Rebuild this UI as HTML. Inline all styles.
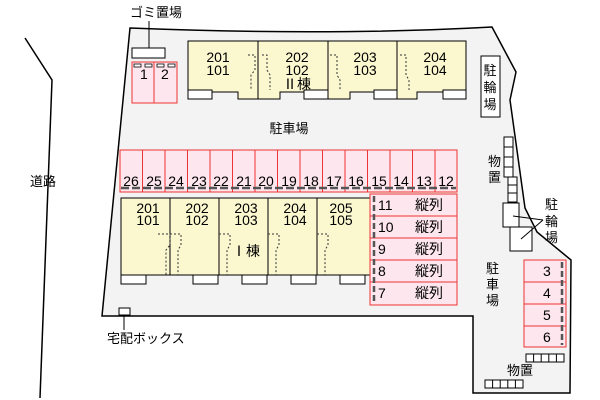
<!DOCTYPE html>
<html><head><style>
html,body{margin:0;padding:0;background:#fff;}
svg{display:block;font-family:"Liberation Sans","Noto Sans CJK JP",sans-serif;}
</style></head><body>
<svg width="600" height="400" viewBox="0 0 600 400" xmlns="http://www.w3.org/2000/svg">
<polyline points="25,38 52,80 40,398" fill="none" stroke="#000" stroke-width="1.5"/>
<path d="M130,28 Q330,36 492,27 L516,72 L510,100 L525,208 L537,232 L571,260 L570,393 L473,393 L473,316 L102,316 Z" fill="#f3f3f3" stroke="#000" stroke-width="1.5"/>
<text x="30" y="186" font-size="13">道路</text>
<text x="130" y="17" font-size="13">ゴミ置場</text>
<line x1="149" y1="21" x2="149" y2="48" stroke="#000"/>
<rect x="132" y="48" width="33" height="10" fill="#fff" stroke="#000"/>
<rect x="132" y="62" width="22" height="41" fill="#fde6ee" stroke="#e33"/>
<rect x="154" y="62" width="23" height="41" fill="#fde6ee" stroke="#e33"/>
<g fill="#fff" stroke="#000" stroke-width="0.8"><rect x="134" y="64" width="7" height="3"/><rect x="145" y="64" width="7" height="3"/><rect x="157" y="64" width="7" height="3"/><rect x="168" y="64" width="7" height="3"/></g>
<text x="140" y="79" font-size="14">1</text><text x="161" y="79" font-size="14">2</text>
<!-- Building II -->
<path d="M188,41 H466 V99 H446 V92 H417 V99 H374 V92 H350 V99 H304 V92 H280 V99 H238 V92 H212 V99 H188 Z" fill="#fbf8d0" stroke="#000"/>
<g stroke="#000"><line x1="258" y1="41" x2="258" y2="99"/><line x1="328" y1="41" x2="328" y2="92"/><line x1="397" y1="41" x2="397" y2="99"/></g>
<g fill="#fff" stroke="#000"><rect x="188" y="90" width="24" height="9"/><rect x="304" y="90" width="24" height="9"/><rect x="374" y="90" width="23" height="9"/><rect x="443" y="90" width="23" height="9"/></g>
<g stroke="#333" stroke-dasharray="2,2" fill="none"><path d="M248,55 H255 V70 L251,75 V90"/><path d="M262,55 H267 V70 L270,75 V90"/><path d="M330,55 H337 V75 L340,80 V90"/><path d="M400,55 H406 V75 L409,80 V90"/></g>
<g font-size="14" text-anchor="middle"><text x="218" y="62">201</text><text x="218" y="75">101</text><text x="297" y="62">202</text><text x="297" y="75">102</text><text x="365" y="62">203</text><text x="365" y="75">103</text><text x="435" y="62">204</text><text x="435" y="75">104</text></g>
<text x="297" y="89" font-size="14" text-anchor="middle">Ⅱ棟</text>
<rect x="481" y="56" width="19" height="61" fill="#fff" stroke="#000"/>
<text x="490" y="75" font-size="13" text-anchor="middle">駐</text><text x="490" y="92" font-size="13" text-anchor="middle">輪</text><text x="490" y="109" font-size="13" text-anchor="middle">場</text>
<text x="289" y="133" font-size="13" text-anchor="middle">駐車場</text>
<!-- parking row -->
<rect x="120" y="150" width="337" height="42" fill="#fde6ee" stroke="#e33"/>
<g stroke="#e33">
<line x1="142.5" y1="150" x2="142.5" y2="192"/><line x1="165" y1="150" x2="165" y2="192"/><line x1="187.5" y1="150" x2="187.5" y2="192"/><line x1="210" y1="150" x2="210" y2="192"/><line x1="232.5" y1="150" x2="232.5" y2="192"/><line x1="255" y1="150" x2="255" y2="192"/><line x1="277.5" y1="150" x2="277.5" y2="192"/><line x1="300" y1="150" x2="300" y2="192"/><line x1="322.5" y1="150" x2="322.5" y2="192"/><line x1="345" y1="150" x2="345" y2="192"/><line x1="367.5" y1="150" x2="367.5" y2="192"/><line x1="390" y1="150" x2="390" y2="192"/><line x1="412.5" y1="150" x2="412.5" y2="192"/><line x1="435" y1="150" x2="435" y2="192"/></g>
<g font-size="14" text-anchor="middle">
<text x="131" y="186">26</text><text x="154" y="186">25</text><text x="176" y="186">24</text><text x="199" y="186">23</text><text x="221" y="186">22</text><text x="244" y="186">21</text><text x="266" y="186">20</text><text x="289" y="186">19</text><text x="311" y="186">18</text><text x="334" y="186">17</text><text x="356" y="186">16</text><text x="379" y="186">15</text><text x="401" y="186">14</text><text x="424" y="186">13</text><text x="446" y="186">12</text></g>
<line x1="121" y1="188" x2="456" y2="188" stroke="#555" stroke-width="2.5" stroke-dasharray="8,3"/>
<!-- Building I -->
<rect x="121" y="198" width="249" height="77" fill="#fbf8d0" stroke="#000"/>
<g stroke="#000"><line x1="170" y1="198" x2="170" y2="275"/><line x1="219" y1="198" x2="219" y2="275"/><line x1="268" y1="198" x2="268" y2="275"/><line x1="317" y1="198" x2="317" y2="275"/></g>
<g fill="#fff" stroke="#000"><rect x="121" y="275" width="25" height="9"/><rect x="193" y="275" width="25" height="9"/><rect x="242" y="275" width="25" height="9"/><rect x="291" y="275" width="25" height="9"/><rect x="340" y="275" width="25" height="9"/></g>
<g stroke="#333" stroke-dasharray="2,2" fill="none"><path d="M158,234 H181 V245 L178,250 V275"/><path d="M170,234 V245 L166,250 V275"/><path d="M219,234 H230 V245 L227,250 V275"/><path d="M268,234 H279 V245 L276,250 V275"/><path d="M317,234 H328 V245 L325,250 V275"/></g>
<g font-size="14" text-anchor="middle"><text x="148" y="213">201</text><text x="148" y="225">101</text><text x="197" y="213">202</text><text x="197" y="225">102</text><text x="246" y="213">203</text><text x="246" y="225">103</text><text x="295" y="213">204</text><text x="295" y="225">104</text><text x="341" y="213">205</text><text x="341" y="225">105</text></g>
<text x="246" y="256" font-size="14" text-anchor="middle">Ⅰ棟</text>
<!-- 7-11 -->
<rect x="370" y="194" width="87" height="111" fill="#fde6ee" stroke="#e33"/>
<g stroke="#e33"><line x1="370" y1="216" x2="457" y2="216"/><line x1="370" y1="238" x2="457" y2="238"/><line x1="370" y1="260" x2="457" y2="260"/><line x1="370" y1="282" x2="457" y2="282"/></g>
<line x1="374" y1="196" x2="374" y2="303" stroke="#555" stroke-width="2.5" stroke-dasharray="6,3"/>
<g font-size="14"><text x="378" y="210">11</text><text x="378" y="232">10</text><text x="378" y="254">9</text><text x="378" y="276">8</text><text x="378" y="298">7</text>
<text x="415" y="210">縦列</text><text x="415" y="232">縦列</text><text x="415" y="254">縦列</text><text x="415" y="276">縦列</text><text x="415" y="298">縦列</text></g>
<!-- right side -->
<g fill="#fff" stroke="#000"><rect x="504" y="137" width="9" height="40"/><rect x="508" y="177" width="9" height="25"/><rect x="503" y="203" width="16" height="24"/><rect x="510" y="227" width="22" height="24"/></g>
<g stroke="#000"><line x1="504" y1="147" x2="513" y2="147"/><line x1="504" y1="157" x2="513" y2="157"/><line x1="504" y1="167" x2="513" y2="167"/><line x1="508" y1="185" x2="517" y2="185"/><line x1="508" y1="193" x2="517" y2="193"/><line x1="513" y1="216" x2="543" y2="220"/><line x1="521" y1="239" x2="543" y2="220"/></g>
<text x="488" y="166" font-size="13">物</text><text x="488" y="182" font-size="13">置</text>
<text x="545" y="209" font-size="13">駐</text><text x="545" y="226" font-size="13">輪</text><text x="545" y="242" font-size="13">場</text>
<text x="486" y="273" font-size="13">駐</text><text x="486" y="289" font-size="13">車</text><text x="486" y="305" font-size="13">場</text>
<rect x="524" y="260" width="42" height="87" fill="#fde6ee" stroke="#e33"/>
<g stroke="#e33"><line x1="524" y1="282" x2="566" y2="282"/><line x1="524" y1="304" x2="566" y2="304"/><line x1="524" y1="326" x2="566" y2="326"/></g>
<line x1="562" y1="262" x2="562" y2="345" stroke="#555" stroke-width="2.5" stroke-dasharray="6,3"/>
<g font-size="14"><text x="543" y="276">3</text><text x="543" y="298">4</text><text x="543" y="320">5</text><text x="543" y="342">6</text></g>
<g fill="#fff" stroke="#000"><rect x="526" y="354" width="38" height="8"/><rect x="485" y="380" width="38" height="8"/></g>
<g stroke="#000"><line x1="533.6" y1="354" x2="533.6" y2="362"/><line x1="541.2" y1="354" x2="541.2" y2="362"/><line x1="548.8" y1="354" x2="548.8" y2="362"/><line x1="556.4" y1="354" x2="556.4" y2="362"/><line x1="492.6" y1="380" x2="492.6" y2="388"/><line x1="500.2" y1="380" x2="500.2" y2="388"/><line x1="507.8" y1="380" x2="507.8" y2="388"/><line x1="515.4" y1="380" x2="515.4" y2="388"/></g>
<text x="507" y="375" font-size="13">物置</text>
<rect x="119" y="308" width="11" height="7" fill="#fff" stroke="#000"/>
<line x1="124" y1="315" x2="124" y2="330" stroke="#000"/>
<text x="107" y="343" font-size="13">宅配ボックス</text>
</svg>
</body></html>
